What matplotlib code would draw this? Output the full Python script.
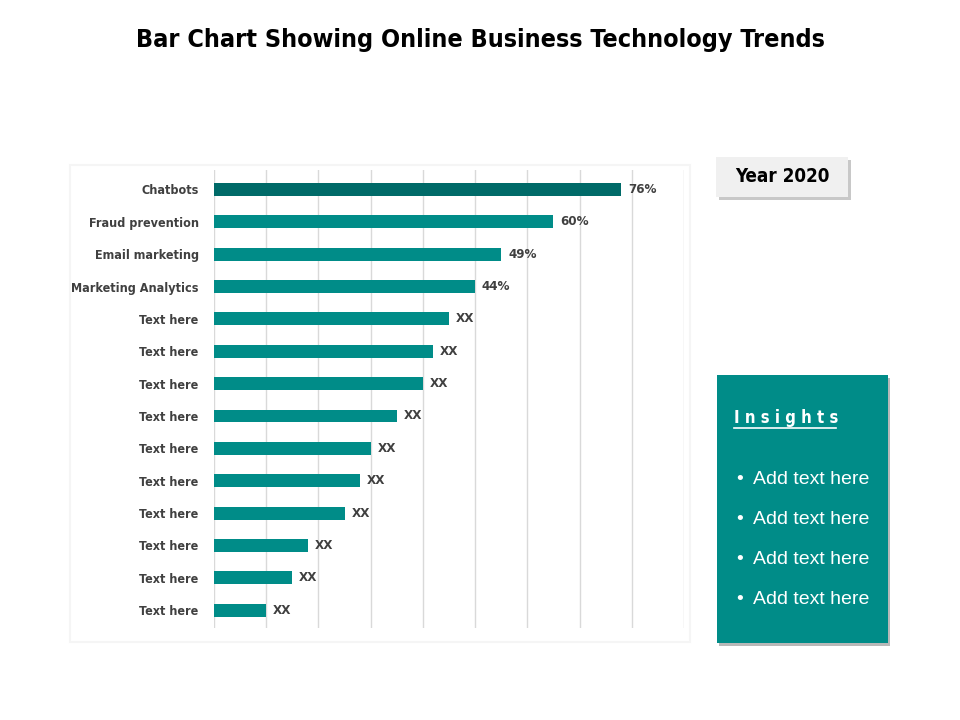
import matplotlib.pyplot as plt
from matplotlib.patches import Rectangle

# data
categories = ["Chatbots", "Fraud prevention", "Email marketing", "Marketing Analytics",
              "Text here", "Text here", "Text here", "Text here", "Text here",
              "Text here", "Text here", "Text here", "Text here", "Text here"]
values = [78, 65, 55, 50, 45, 42, 40, 35, 30, 28, 25, 18, 15, 10]
value_labels = ["76%", "60%", "49%", "44%", "XX", "XX", "XX", "XX", "XX",
                "XX", "XX", "XX", "XX", "XX"]
insights = ["Add text here"] * 4

teal = "#008C88"
dark_teal = "#006A68"
grey_text = "#404040"
narrow = dict(family=["DejaVu Sans"], fontstretch="condensed")

fig = plt.figure(figsize=(9.6, 7.2), dpi=100)
W, H = 960, 720


def fx(px):
    return px / W


def fy(py):
    return 1 - py / H


# faint panel behind the chart
fig.patches.append(Rectangle((fx(70), fy(642)), fx(690) - fx(70), fy(165) - fy(642),
                             transform=fig.transFigure, facecolor="white",
                             edgecolor="#f5f5f5", linewidth=1.5, zorder=-5))

ax = fig.add_axes([fx(214), fy(628), fx(684) - fx(214), fy(170) - fy(628)])
ax.set_facecolor("none")
ypos = list(range(len(categories)))
colors = [dark_teal] + [teal] * (len(categories) - 1)
ax.barh(ypos, values, height=0.4, color=colors, zorder=3)
for y, v, lab in zip(ypos, values, value_labels):
    ax.text(v + 1.3, y, lab, va="center", ha="left", fontsize=9.5, fontweight="bold",
            color=grey_text, **narrow)

ax.set_xlim(0, 90)
ax.set_ylim(13.55, -0.6)
ax.set_xticks(range(0, 91, 10))
ax.set_xticklabels([])
ax.set_yticks(ypos)
ax.set_yticklabels(categories, fontsize=9, fontweight="bold", color=grey_text, **narrow)
ax.tick_params(length=0, pad=11)
ax.grid(axis="x", color="#d9d9d9", linewidth=1, zorder=0)
for s in ax.spines.values():
    s.set_visible(False)

# title
fig.text(0.5, fy(40), "Bar Chart Showing Online Business Technology Trends",
         ha="center", va="center", fontsize=18, fontweight="bold", color="black",
         **narrow)

# Year box with shadow
fig.patches.append(Rectangle((fx(719), fy(200)), fx(848) - fx(716), fy(157) - fy(197),
                             transform=fig.transFigure, facecolor="#c8c8c8",
                             edgecolor="none", zorder=1))
fig.patches.append(Rectangle((fx(716), fy(197)), fx(848) - fx(716), fy(157) - fy(197),
                             transform=fig.transFigure, facecolor="#f0f0f0",
                             edgecolor="none", zorder=2))
fig.text(fx(782), fy(177), "Year 2020", ha="center", va="center", fontsize=13.5,
         fontweight="bold", color="black", zorder=3, **narrow)

# Insights box
fig.patches.append(Rectangle((fx(719), fy(646)), fx(888) - fx(717), fy(375) - fy(643),
                             transform=fig.transFigure, facecolor="#b8b8b8",
                             edgecolor="none", zorder=1))
fig.patches.append(Rectangle((fx(717), fy(643)), fx(888) - fx(717), fy(375) - fy(643),
                             transform=fig.transFigure, facecolor=teal,
                             edgecolor="none", zorder=2))
fig.text(fx(734), fy(418), "I n s i g h t s", ha="left", va="center", fontsize=12,
         fontweight="bold", color="white", zorder=3, **narrow)
fig.lines.append(plt.Line2D([fx(734), fx(836)], [fy(428), fy(428)],
                            transform=fig.transFigure, color="white", linewidth=1.2,
                            zorder=3))
for i, txt in enumerate(insights):
    y = fy(479 + 40 * i)
    fig.text(fx(734), y, "\u2022", ha="left", va="center", fontsize=13, color="white", zorder=3)
    fig.text(fx(753), y, txt, ha="left", va="center", fontsize=14, color="white",
             family=["Liberation Sans", "DejaVu Sans"], zorder=3)

fig.savefig("out.png", dpi=100)
